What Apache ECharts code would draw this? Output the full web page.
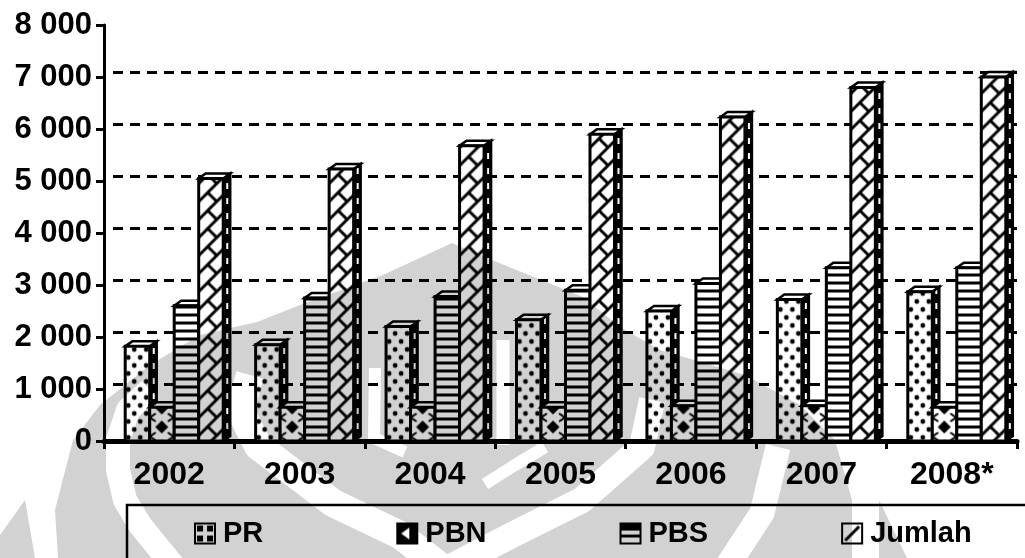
<!DOCTYPE html>
<html>
<head>
<meta charset="utf-8">
<style>html,body{margin:0;padding:0;background:#fff}#main{width:1025px;height:558px}</style>
<script src="https://cdn.jsdelivr.net/npm/echarts@6/dist/echarts.min.js"></script>
</head>
<body>
<div id="main"></div>
<script>
var categories = ['2002', '2003', '2004', '2005', '2006', '2007', '2008*'];
var yTicks = ['0', '1 000', '2 000', '3 000', '4 000', '5 000', '6 000', '7 000', '8 000'];
var PR = [1820, 1850, 2200, 2330, 2500, 2720, 2870];
var PBN = [650, 650, 650, 650, 680, 680, 650];
var PBS = [2600, 2750, 2780, 2900, 3030, 3330, 3330];
var Jumlah = [5050, 5230, 5680, 5900, 6230, 6800, 7000];

// tile helpers for the hatch fills
function tile(w, h, draw) {
    var c = document.createElement('canvas');
    c.width = w; c.height = h;
    var g = c.getContext('2d');
    g.fillStyle = '#fff'; g.fillRect(0, 0, w, h);
    g.fillStyle = '#000'; g.strokeStyle = '#000';
    draw(g);
    return c;
}
function dot(g, x, y, r) { g.beginPath(); g.arc(x, y, r, 0, Math.PI * 2); g.fill(); }
function diamond(g, x, y, r) {
    g.beginPath(); g.moveTo(x, y - r); g.lineTo(x + r, y); g.lineTo(x, y + r); g.lineTo(x - r, y); g.closePath(); g.fill();
}

var tilePR = tile(12, 16, function (g) { dot(g, 3, 4, 2.4); dot(g, 9, 12, 2.4); });
var tilePBN = tile(24, 19, function (g) {
    diamond(g, 12, 9.5, 6.5);
    g.lineWidth = 2;
    g.beginPath(); g.moveTo(0, 0); g.lineTo(6, 4); g.moveTo(24, 0); g.lineTo(18, 4);
    g.moveTo(0, 19); g.lineTo(6, 15); g.moveTo(24, 19); g.lineTo(18, 15); g.stroke();
});
var tilePBS = tile(8, 8, function (g) { g.fillRect(0, 0, 8, 3); });
var tileJumlah = tile(18, 18, function (g) {
    g.lineWidth = 3;
    g.beginPath();
    g.moveTo(-2, 20); g.lineTo(20, -2);
    g.moveTo(-2, 2); g.lineTo(2, -2);
    g.moveTo(16, 20); g.lineTo(20, 16);
    g.moveTo(9, 9); g.lineTo(18, 18);
    g.stroke();
});
var tileSide = tile(8, 15, function (g) {
    g.fillRect(0, 0, 8, 15);
    g.fillStyle = '#fff';
    g.fillRect(3, 3, 2, 6);
});

// small legend swatches
var iconPR = tile(20, 20, function (g) {
    g.fillRect(2, 2, 6, 6); g.fillRect(12, 2, 6, 6); g.fillRect(2, 12, 6, 6); g.fillRect(12, 12, 6, 6);
});
var iconPBN = tile(20, 20, function (g) {
    g.fillRect(0, 0, 20, 20);
    g.fillStyle = '#fff';
    g.beginPath(); g.moveTo(4, 10); g.lineTo(12, 4); g.lineTo(12, 16); g.closePath(); g.fill();
});
var iconPBS = tile(20, 20, function (g) { g.fillRect(0, 0, 20, 7); g.fillRect(0, 11, 20, 3); });
var iconJumlah = tile(20, 20, function (g) {
    g.lineWidth = 3;
    g.beginPath(); g.moveTo(3, 17); g.lineTo(17, 3); g.stroke();
});

var barOffset = [-1.5, -0.5, 0.5, 1.5];
var barW = 24.5, depthX = 7, depthY = 5;

function box(idx, image) {
    return function (params, api) {
        var p = api.coord([api.value(0), api.value(1)]);
        var base = api.coord([api.value(0), 0]);
        var x = p[0] + 5 + barOffset[idx] * barW - barW / 2;
        return {
            type: 'group',
            children: [
                {type: 'polygon', shape: {points: [[x + barW, p[1]], [x + barW + depthX, p[1] - depthY], [x + barW + depthX, base[1] - depthY], [x + barW, base[1]]]},
                    style: {fill: {image: tileSide, repeat: 'repeat', x: x + barW, y: 0}, stroke: '#000', lineWidth: 2.5}},
                {type: 'polygon', shape: {points: [[x, p[1]], [x + depthX, p[1] - depthY], [x + barW + depthX, p[1] - depthY], [x + barW, p[1]]]},
                    style: {fill: '#fff', stroke: '#000', lineWidth: 2.5}},
                {type: 'rect', shape: {x: x, y: p[1], width: barW, height: base[1] - p[1]},
                    style: {fill: {image: image, repeat: 'repeat', x: x, y: base[1] - 23.5}, stroke: '#000', lineWidth: 3}}
            ]
        };
    };
}
function series(name, values, idx, image, icon) {
    return {
        name: name,
        type: 'custom',
        coordinateSystem: 'cartesian2d',
        xAxisIndex: 0,
        yAxisIndex: 0,
        z: 5,
        itemStyle: {color: {image: icon, repeat: 'repeat'}, borderColor: '#000', borderWidth: 2},
        renderItem: box(idx, image),
        encode: {x: 0, y: 1},
        data: values.map(function (v, i) { return [i, v]; })
    };
}

// grey emblem that shows through the page, laid over everything with multiply
function watermark() {
    var c = document.createElement('canvas');
    c.width = 1025; c.height = 558;
    var g = c.getContext('2d');
    function poly(pts) {
        g.beginPath();
        pts.forEach(function (p, i) { if (i) { g.lineTo(p[0], p[1]); } else { g.moveTo(p[0], p[1]); } });
    }
    g.fillStyle = '#d2d2d2';
    poly([[58, 558], [55, 510], [73, 440], [100, 405], [150, 365], [200, 335], [257, 322], [300, 305], [383, 275], [452, 243],
        [487, 258], [583, 297], [620, 327], [660, 350], [745, 375], [800, 405], [835, 440], [852, 500], [852, 558]]);
    g.closePath(); g.fill();
    poly([[25, 500], [0, 535], [0, 558], [35, 558]]); g.closePath(); g.fill();
    poly([[879, 500], [907, 558], [879, 558]]); g.closePath(); g.fill();

    g.globalCompositeOperation = 'destination-out';
    g.lineJoin = 'round';
    function band(w, pts) { g.lineWidth = w; poly(pts); g.stroke(); }
    band(24, [[175, 568], [140, 525], [125, 500], [118, 470], [118, 440], [128, 410], [150, 390]]);
    band(28, [[445, 570], [400, 535], [333, 503], [258, 446], [240, 410], [250, 375]]);
    band(26, [[445, 570], [512, 535], [582, 500], [642, 447], [652, 400]]);
    band(25, [[778, 447], [762, 513], [728, 565]]);
    band(12, [[375, 368], [374, 438], [405, 452]]);
    band(12, [[485, 484], [515, 465], [545, 447]]);
    band(13, [[503, 340], [503, 445]]);
    return c;
}

var chart = echarts.init(document.getElementById('main'), null, {renderer: 'canvas'});
chart.setOption({
    animation: false,
    backgroundColor: '#fff',
    textStyle: {fontFamily: 'Liberation Sans'},
    graphic: [
        // legend frame, runs off the page
        {type: 'rect', z: 1, shape: {x: 127, y: 505, width: 1000, height: 100}, style: {fill: 'transparent', stroke: '#000', lineWidth: 2.5}},
        {type: 'image', z: 100, silent: true, style: {image: watermark(), x: 0, y: 0, width: 1025, height: 558, blend: 'multiply'}}
    ],
    legend: {
        left: 189, top: 514,
        itemWidth: 20, itemHeight: 20, itemGap: 133,
        icon: 'rect',
        data: ['PR', 'PBN', 'PBS', 'Jumlah'],
        textStyle: {fontSize: 29, fontWeight: 'bold', color: '#000', padding: [0, 0, 0, 3]}
    },
    grid: [
        {left: 104, top: 25, width: 913, height: 416},
        {left: 113, top: 20, width: 904, height: 416}
    ],
    xAxis: [
        {type: 'category', gridIndex: 0, data: categories, boundaryGap: true,
            axisLine: {lineStyle: {color: '#000', width: 5}},
            axisTick: {show: true, length: 8, lineStyle: {color: '#000', width: 3}},
            axisLabel: {color: '#000', fontSize: 32, fontWeight: 'bold', margin: 18}},
        {type: 'category', gridIndex: 1, data: categories, show: false}
    ],
    yAxis: [
        {type: 'value', gridIndex: 0, min: 0, max: 8000, interval: 1000,
            axisLine: {show: true, lineStyle: {color: '#000', width: 3}},
            axisTick: {show: true, length: 8, lineStyle: {color: '#000', width: 3}},
            splitLine: {show: false},
            axisLabel: {color: '#000', fontSize: 31, fontWeight: 'bold', margin: 12,
                formatter: function (v) { return yTicks[v / 1000]; }}},
        {type: 'value', gridIndex: 1, min: 0, max: 8000, interval: 1000,
            axisLine: {show: false}, axisTick: {show: false}, axisLabel: {show: false},
            splitLine: {show: true, showMinLine: false, showMaxLine: false,
                lineStyle: {color: '#000', width: 3, type: [10, 7]}}}
    ],
    series: [
        series('PR', PR, 0, tilePR, iconPR),
        series('PBN', PBN, 1, tilePBN, iconPBN),
        series('PBS', PBS, 2, tilePBS, iconPBS),
        series('Jumlah', Jumlah, 3, tileJumlah, iconJumlah)
    ]
});
</script>
</body>
</html>
